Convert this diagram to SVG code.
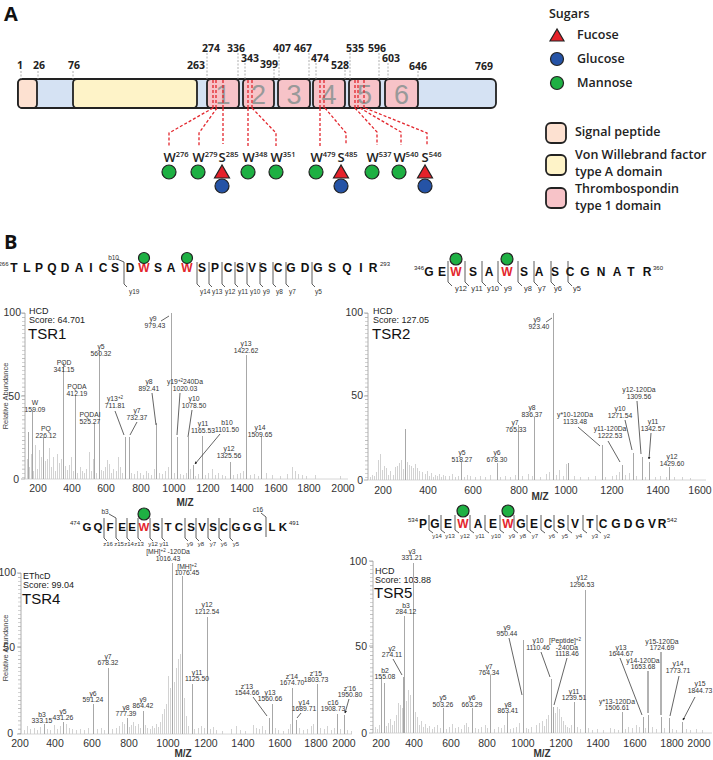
<svg xmlns="http://www.w3.org/2000/svg" width="713" height="760" viewBox="0 0 713 760">
<defs>
<marker id="ah" viewBox="0 0 6 6" refX="5" refY="3" markerWidth="4" markerHeight="4" orient="auto"><path d="M0,0L6,3L0,6z" fill="#222"/></marker>
<style>
.num{font-family:"Open Sans","Liberation Sans",sans-serif;font-weight:700;font-size:10.5px;fill:#222;text-anchor:middle}
.gd{stroke:#999;stroke-width:0.8;stroke-dasharray:2 1.5}
.rd{stroke:#e3262d;stroke-width:1.3;stroke-dasharray:3 2;fill:none}
.box{stroke:#222;stroke-width:1.8}
.tsr{fill:#f7c3c8}
.big{font-family:"Liberation Sans",sans-serif;font-size:27px;fill:#999;text-anchor:middle}
.man{fill:#1eb043;stroke:#222;stroke-width:1.2}
.glc{fill:#2553a6;stroke:#222;stroke-width:1.2}
.fuc{fill:#e5212a;stroke:#222;stroke-width:1.2}
.site{font-family:"Open Sans","Liberation Sans",sans-serif;font-weight:600;font-size:13px;fill:#222}
.site tspan{font-size:7.5px}
.lg{font-family:"Open Sans","Liberation Sans",sans-serif;font-weight:600;font-size:12.5px;fill:#222}
.seq{font-family:"Liberation Sans",sans-serif;font-weight:700;font-size:12px;fill:#111;text-anchor:middle}
.w{fill:#e3262d}
.sup{font-family:"Liberation Sans",sans-serif;font-size:6px;fill:#222}
.mk{stroke:#333;stroke-width:0.8;fill:none}
.ion{font-family:"Liberation Sans",sans-serif;font-size:6.5px;fill:#333}
.pk{stroke:#a8a8a8;stroke-width:1;fill:none}
.nz{stroke:#c6c6c6;stroke-width:0.8;fill:none}
.pl{font-family:"Liberation Sans",sans-serif;font-size:6.8px;fill:#333;text-anchor:middle}
.arr{stroke:#222;stroke-width:0.7;fill:none;marker-end:url(#ah)}
.ax{stroke:#999;stroke-width:0.8}
.mt{stroke:#aaa;stroke-width:3;stroke-dasharray:0.6 3.5}
.tk{font-family:"Liberation Sans",sans-serif;font-size:10.5px;fill:#333;text-anchor:middle}
.yl{font-family:"Liberation Sans",sans-serif;font-size:10.5px;fill:#333;text-anchor:end}
.mz{font-family:"Liberation Sans",sans-serif;font-weight:700;font-size:10px;fill:#333;text-anchor:middle}
.ra{font-family:"Liberation Sans",sans-serif;font-size:7.5px;fill:#444;text-anchor:middle}
.hd{font-family:"Liberation Sans",sans-serif;font-size:9px;fill:#222}
.nm{font-family:"Liberation Sans",sans-serif;font-size:15px;fill:#111}
.pn{font-family:"Open Sans","Liberation Sans",sans-serif;font-weight:700;font-size:20px;fill:#111}
</style>
</defs>
<rect width="713" height="760" fill="#fff"/>

<!-- Panel labels -->
<text class="pn" x="4" y="21">A</text>
<text class="pn" x="4" y="249">B</text>

<!-- Domain bar -->
<g id="domain-bar">
<rect x="18" y="79" width="478" height="29" rx="5" fill="#d5e2f3" class="box"/>
<rect x="18" y="79" width="19" height="29" rx="4" fill="#fde1d1" class="box"/>
<rect x="73" y="79" width="124" height="29" rx="4" fill="#fef3c8" class="box"/>
<rect x="207" y="79" width="32" height="29" rx="4" class="box tsr"/>
<rect x="243" y="79" width="31" height="29" rx="4" class="box tsr"/>
<rect x="278" y="79" width="32" height="29" rx="4" class="box tsr"/>
<rect x="313" y="79" width="32" height="29" rx="4" class="box tsr"/>
<rect x="349" y="79" width="31" height="29" rx="4" class="box tsr"/>
<rect x="385" y="79" width="33" height="29" rx="4" class="box tsr"/>
<text class="big" x="223" y="104">1</text>
<text class="big" x="258.5" y="104">2</text>
<text class="big" x="294" y="104">3</text>
<text class="big" x="329" y="104">4</text>
<text class="big" x="364.5" y="104">5</text>
<text class="big" x="401.5" y="104">6</text>
<path class="gd" d="M21 71V79M38 71V79M73 71V79M207 53V79M238 53V79M245 63V79M274 69V79M279 53V79M309 53V79M316 63V79M345 70V79M350 53V79M379 53V79M388 63V79M418 71V79"/>
<text class="num" x="20" y="69">1</text>
<text class="num" x="39" y="69">26</text>
<text class="num" x="74" y="69">76</text>
<text class="num" x="196" y="69">263</text>
<text class="num" x="211" y="52">274</text>
<text class="num" x="236" y="52">336</text>
<text class="num" x="250" y="62">343</text>
<text class="num" x="269" y="68">399</text>
<text class="num" x="282" y="52">407</text>
<text class="num" x="303" y="52">467</text>
<text class="num" x="320" y="62">474</text>
<text class="num" x="340" y="69">528</text>
<text class="num" x="355" y="52">535</text>
<text class="num" x="377" y="52">596</text>
<text class="num" x="391" y="62">603</text>
<text class="num" x="418" y="70">646</text>
<text class="num" x="484" y="70">769</text>
</g>

<!-- Glycosylation connectors -->
<g id="site-connectors">
<path class="rd" d="M213 80V108M216 80V108M223 80V108M248 80V108M252 80V108M320 80V108M324 80V108M355 80V108M358 80V108M364 80V108"/>
<path class="rd" d="M213 108L169 133V146M217 108L199 133V146M223 108V144M248 108V146M252 108L276 133V146M320 108V146M325 108L346 133V145M355 108L377 132V145M360 108L401 132V145M365 108L427 133V145"/>
</g>

<!-- Glycosylation sites -->
<g id="site-W276"><text class="site" x="163.5" y="162">W<tspan dy="-5">276</tspan></text><circle class="man" cx="169" cy="172" r="7"/></g>
<g id="site-W279"><text class="site" x="192.5" y="162">W<tspan dy="-5">279</tspan></text><circle class="man" cx="198" cy="172" r="7"/></g>
<g id="site-S285"><text class="site" x="218.5" y="162">S<tspan dy="-5">285</tspan></text><polygon class="fuc" points="222,165 214.5,178 229.5,178"/><circle class="glc" cx="222" cy="186" r="7"/></g>
<g id="site-W348"><text class="site" x="242.5" y="162">W<tspan dy="-5">348</tspan></text><circle class="man" cx="248" cy="172" r="7"/></g>
<g id="site-W351"><text class="site" x="270.5" y="162">W<tspan dy="-5">351</tspan></text><circle class="man" cx="276" cy="172" r="7"/></g>
<g id="site-W479"><text class="site" x="310.5" y="162">W<tspan dy="-5">479</tspan></text><circle class="man" cx="316" cy="172" r="7"/></g>
<g id="site-S485"><text class="site" x="337.5" y="162">S<tspan dy="-5">485</tspan></text><polygon class="fuc" points="341,165 333.5,178 348.5,178"/><circle class="glc" cx="341" cy="186" r="7"/></g>
<g id="site-W537"><text class="site" x="366.5" y="162">W<tspan dy="-5">537</tspan></text><circle class="man" cx="372" cy="172" r="7"/></g>
<g id="site-W540"><text class="site" x="393.5" y="162">W<tspan dy="-5">540</tspan></text><circle class="man" cx="399" cy="172" r="7"/></g>
<g id="site-S546"><text class="site" x="421.5" y="162">S<tspan dy="-5">546</tspan></text><polygon class="fuc" points="425,165 417.5,178 432.5,178"/><circle class="glc" cx="425" cy="186" r="7"/></g>

<!-- Legend -->
<g id="legend-sugars">
<text class="lg" x="549" y="18">Sugars</text>
<polygon class="fuc" points="557,29 550,41 564,41"/>
<text class="lg" x="577" y="39">Fucose</text>
<circle class="glc" cx="557" cy="59" r="6.5"/>
<text class="lg" x="577" y="63">Glucose</text>
<circle class="man" cx="557" cy="83" r="6.5"/>
<text class="lg" x="577" y="87">Mannose</text>
</g>
<g id="legend-domains">
<rect x="546" y="123" width="20" height="20" rx="5" fill="#fde1d1" class="box"/>
<text class="lg" x="575" y="136">Signal peptide</text>
<rect x="546" y="155" width="20" height="20" rx="5" fill="#fef3c8" class="box"/>
<text class="lg" x="575" y="159">Von Willebrand factor</text>
<text class="lg" x="575" y="176">type A domain</text>
<rect x="546" y="188" width="20" height="20" rx="5" class="box tsr"/>
<text class="lg" x="575" y="193">Thrombospondin</text>
<text class="lg" x="575" y="210">type 1 domain</text>
</g>

<!-- ===== TSR1 ===== -->
<g id="tsr1-sequence">
<text class="sup" x="8.5" y="266" text-anchor="end">266</text>
<text class="seq" y="272"><tspan x="14 27 39 52 65 79 91 103 115 130">TLPQDAICSD</tspan><tspan class="w" x="144">W</tspan><tspan x="158 171">SA</tspan><tspan class="w" x="187">W</tspan><tspan x="202 215 228 240 252 263 278 291 305 318 332 347 361 373">SPCSVSCGDGSQIR</tspan></text>
<text class="sup" x="380" y="266">293</text>
<circle class="man" cx="144" cy="258" r="5.5"/><circle class="man" cx="187" cy="258" r="5.5"/>
<path class="mk" d="M117 259L124 262V284L127 287M197 262V284L200 287M209 262V284L212 287M222 262V284L225 287M235 262V284L238 287M247 262V284L250 287M260 262V284L263 287M273 262V284L276 287M286 262V284L289 287M312 262V284L315 287"/>
<text class="ion" x="119" y="260" text-anchor="end">b10</text>
<text class="ion" x="129" y="294">y19</text>
<text class="ion" x="200" y="294">y14</text><text class="ion" x="212" y="294">y13</text><text class="ion" x="225" y="294">y12</text><text class="ion" x="238" y="294">y11</text><text class="ion" x="250" y="294">y10</text><text class="ion" x="263" y="294">y9</text><text class="ion" x="276" y="294">y8</text><text class="ion" x="289" y="294">y7</text><text class="ion" x="315" y="294">y5</text>
</g>
<g id="tsr1-spectrum">
<line class="ax" x1="25" y1="313" x2="25" y2="479"/><line class="mt" x1="23.5" y1="313" x2="23.5" y2="479"/>
<path class="ax" d="M21 313H25M21 396H25M21 479H25"/>
<line x1="25" y1="479" x2="348" y2="479" stroke="#ccc" stroke-width="0.8"/>
<text class="yl" x="21" y="316">100</text><text class="yl" x="20" y="400">50</text><text class="yl" x="19" y="483">0</text>
<text class="tk" x="38" y="492">200</text><text class="tk" x="72" y="492">400</text><text class="tk" x="106" y="492">600</text><text class="tk" x="141" y="492">800</text><text class="tk" x="174" y="492">1000</text><text class="tk" x="208" y="492">1200</text><text class="tk" x="242" y="492">1400</text><text class="tk" x="276" y="492">1600</text><text class="tk" x="309" y="492">1800</text><text class="tk" x="343" y="492">2000</text>
<text class="mz" x="185" y="506">M/Z</text>
<text class="ra" transform="translate(8 396) rotate(-90)">Relative Abundance</text>
<text class="hd" x="29" y="314">HCD</text><text class="hd" x="29" y="323">Score: 64.701</text><text class="nm" x="28" y="339">TSR1</text>
<g transform="translate(0.5 0)">
<path class="nz" d="M27 479v-20M29 479v-12M31 479v-25M33 479v-8M35 479v-34M37 479v-10M39 479v-29M41 479v-22M45 479v-18M47 479v-20M49 479v-31M51 479v-12M53 479v-22M55 479v-8M57 479v-25M59 479v-16M61 479v-20M65 479v-13M67 479v-9M69 479v-14M71 479v-22M73 479v-8M77 479v-6M80 479v-12M82 479v-8M84 479v-6M86 479v-10M89 479v-27M91 479v-8M93 479v-20M96 479v-6M101 479v-9M103 479v-8M105 479v-12M107 479v-19M109 479v-15M111 479v-6M113 479v-10M116 479v-8M118 479v-22M120 479v-12M122 479v-6M131 479v-6M134 479v-5M137 479v-8M140 479v-6M143 479v-4M146 479v-8M148 479v-6M151 479v-4M154 479v-10M159 479v-6M162 479v-5M165 479v-8M168 479v-12M174 479v-6M180 479v-5M183 479v-4M186 479v-6M190 479v-10M195 479v-3M198 479v-5M205 479v-4M208 479v-6M212 479v-10M215 479v-4M218 479v-6M222 479v-4M225 479v-3M233 479v-4M237 479v-5M240 479v-6M243 479v-8M250 479v-4M254 479v-5M258 479v-3M266 479v-6M272 479v-4M280 479v-3M287 479v-5M292 479v-12M295 479v-8M298 479v-5M302 479v-4M306 479v-3M315 479v-4M340 479v-3"/>
<path class="pk" d="M28 479V432M32 479V410M43 479V437M63 479V362M75 479V395M94 479V423M99 479V350M125 479V437M129 479V437M156 479V423M171 479V313M177 479V437M188 479V437M193 479V465M202 479V436M230 479V462M246 479V355M261 479V436"/>
</g>
<text class="pl" x="35" y="405">W</text><text class="pl" x="35" y="412">159.09</text>
<text class="pl" x="46" y="431">PQ</text><text class="pl" x="46" y="438">226.12</text>
<text class="pl" x="64" y="365">PQD</text><text class="pl" x="64" y="372">341.15</text>
<text class="pl" x="77" y="389">PQDA</text><text class="pl" x="77" y="396">412.19</text>
<text class="pl" x="90" y="417">PQDAI</text><text class="pl" x="90" y="424">525.27</text>
<text class="pl" x="101" y="349">y5</text><text class="pl" x="101" y="356">560.32</text>
<text class="pl" x="115" y="401">y13<tspan dy="-2.5" font-size="4.5">+2</tspan></text><text class="pl" x="115" y="408">711.81</text>
<text class="pl" x="137" y="413">y7</text><text class="pl" x="137" y="420">732.37</text>
<text class="pl" x="149" y="384">y8</text><text class="pl" x="149" y="391">892.41</text>
<text class="pl" x="153" y="321">y9</text><text class="pl" x="155" y="328">979.43</text>
<text class="pl" x="185" y="384">y19<tspan dy="-2.5" font-size="4.5">+2</tspan><tspan dy="2.5">240Da</tspan></text><text class="pl" x="185" y="391">1020.03</text>
<text class="pl" x="194" y="401">y10</text><text class="pl" x="194" y="408">1078.50</text>
<text class="pl" x="203" y="426">y11</text><text class="pl" x="203" y="433">1165.53</text>
<text class="pl" x="227" y="425">b10</text><text class="pl" x="227" y="432">1101.50</text>
<text class="pl" x="229" y="451">y12</text><text class="pl" x="229" y="458">1325.56</text>
<text class="pl" x="246" y="346">y13</text><text class="pl" x="246" y="353">1422.62</text>
<text class="pl" x="260" y="430">y14</text><text class="pl" x="260" y="437">1509.65</text>
<path class="arr" d="M115 411L124 435M137 422L130 435M152 393L156 425M161 321L169 316M180 393L177 435M192 410L188 437M220 434L195 464"/>
</g>

<!-- ===== TSR2 ===== -->
<g id="tsr2-sequence">
<text class="sup" x="424" y="270" text-anchor="end">346</text>
<text class="seq" y="276"><tspan x="429 442">GE</tspan><tspan class="w" x="456">W</tspan><tspan x="473 489">SA</tspan><tspan class="w" x="507">W</tspan><tspan x="524 539 555 570 585 601 617 631 647">SASCGNATR</tspan></text>
<text class="sup" x="653" y="270">360</text>
<circle class="man" cx="456" cy="259" r="6"/><circle class="man" cx="507" cy="259" r="6"/>
<path class="mk" d="M448 261V282L452 286M465 261V282L469 286M482 261V282L486 286M498 261V282L502 286M518 261V282L522 286M534 261V282L538 286M551 261V282L555 286M568 261V282L572 286"/>
<g class="ion" style="font-size:7.5px" text-anchor="middle"><text x="461" y="291">y12</text><text x="477" y="291">y11</text><text x="493" y="291">y10</text><text x="508" y="291">y9</text><text x="528" y="291">y8</text><text x="542" y="291">y7</text><text x="558" y="291">y6</text><text x="577" y="291">y5</text></g>
</g>
<g id="tsr2-spectrum">
<line class="ax" x1="368" y1="313" x2="368" y2="480"/><line class="mt" x1="366.5" y1="313" x2="366.5" y2="480"/>
<path class="ax" d="M364 313H368M364 396H368M364 480H368"/>
<line x1="368" y1="480" x2="706" y2="480" stroke="#ccc" stroke-width="0.8"/>
<text class="yl" x="363" y="316">100</text><text class="yl" x="363" y="399">50</text><text class="yl" x="363" y="484">0</text>
<text class="tk" x="383" y="494">200</text><text class="tk" x="428" y="494">400</text><text class="tk" x="473" y="494">600</text><text class="tk" x="519" y="494">800</text><text class="tk" x="566" y="494">1000</text><text class="tk" x="612" y="494">1200</text><text class="tk" x="658" y="494">1400</text><text class="tk" x="700" y="494">1600</text>
<text class="mz" x="540" y="500">M/Z</text>
<text class="hd" x="373" y="314">HCD</text><text class="hd" x="373" y="323">Score: 127.05</text><text class="nm" x="372" y="339">TSR2</text>
<g transform="translate(0.5 0)">
<path class="nz" d="M370 480v-3M372 480v-5M374 480v-4M376 480v-8M378 480v-20M380 480v-26M382 480v-10M384 480v-14M386 480v-12M388 480v-5M390 480v-9M393 480v-5M395 480v-13M397 480v-14M399 480v-17M401 480v-20M403 480v-11M407 480v-18M409 480v-15M411 480v-14M413 480v-12M415 480v-16M417 480v-12M419 480v-9M422 480v-8M425 480v-6M427 480v-9M429 480v-4M431 480v-7M433 480v-3M435 480v-5M437 480v-4M439 480v-6M441 480v-3M443 480v-5M445 480v-4M449 480v-4M452 480v-6M455 480v-3M458 480v-4M464 480v-3M467 480v-5M470 480v-4M475 480v-3M480 480v-4M485 480v-3M490 480v-5M500 480v-3M505 480v-4M510 480v-3M515 480v-5M522 480v-4M528 480v-6M532 480v-4M540 480v-3M546 480v-6M549 480v-8M556 480v-5M559 480v-10M563 480v-4M566 480v-16M574 480v-4M580 480v-3M588 480v-3M595 480v-4M605 480v-3M612 480v-4M616 480v-5M619 480v-8M625 480v-5M629 480v-7M636 480v-4M645 480v-3M655 480v-3M660 480v-4M666 480v-3M674 480v-3M682 480v-3M690 480v-2"/>
<path class="pk" d="M405 480V429M461 480V462M497 480V463M518 480V425M534 480V417M553 480V313M568 480V463M602 480V445M622 480V465M633 480V453M642 480V457M649 480V462M669 480V467"/>
</g>
<text class="pl" x="462" y="455">y5</text><text class="pl" x="462" y="462">518.27</text>
<text class="pl" x="497" y="455">y6</text><text class="pl" x="497" y="462">678.30</text>
<text class="pl" x="515" y="425">y7</text><text class="pl" x="516" y="432">765.33</text>
<text class="pl" x="532" y="410">y8</text><text class="pl" x="532" y="417">836.37</text>
<text class="pl" x="537" y="322">y9</text><text class="pl" x="539" y="329">923.40</text>
<text class="pl" x="575" y="417">y*10-120Da</text><text class="pl" x="575" y="424">1133.48</text>
<text class="pl" x="610" y="431">y11-120Da</text><text class="pl" x="610" y="438">1222.53</text>
<text class="pl" x="620" y="411">y10</text><text class="pl" x="620" y="418">1271.54</text>
<text class="pl" x="639" y="392">y12-120Da</text><text class="pl" x="639" y="399">1309.56</text>
<text class="pl" x="653" y="424">y11</text><text class="pl" x="653" y="431">1342.57</text>
<text class="pl" x="672" y="459">y12</text><text class="pl" x="672" y="466">1429.60</text>
<path class="arr" d="M546 322L552 318M578 427L600 446M608 441L620 462M625 420L632 450M637 401L641 454M651 433L649 459"/>
</g>

<!-- ===== TSR4 ===== -->
<g id="tsr4-sequence">
<text class="sup" x="80" y="525" text-anchor="end">474</text>
<text class="seq" style="font-size:11.5px" y="531"><tspan x="87 98 110 122 132">GQFEE</tspan><tspan class="w" x="144">W</tspan><tspan x="156 168 179 191 202 213 224 236 247 258 272 283">STCSVSCGGGLK</tspan></text>
<text class="sup" x="289" y="525">491</text>
<circle class="man" cx="144" cy="514" r="6"/>
<path class="mk" d="M104 518V538L107 541M109 514L116 518V538L119 541M127 518V538L130 541M138 518V538L141 541M150 518V538L153 541M162 518V538L165 541M185 518V538L188 541M196 518V538L199 541M208 518V538L211 541M219 518V538L222 541M230 518V538L233 541M261 513L266 517V537"/>
<text class="ion" x="105" y="514" text-anchor="middle">b3</text>
<text class="ion" x="258" y="512" text-anchor="middle">c16</text>
<g class="ion" style="font-size:6px" text-anchor="middle"><text x="108" y="546">z16</text><text x="119" y="546">z15</text><text x="129" y="546">z14</text><text x="139" y="546">z13</text><text x="153" y="546">y12</text><text x="164" y="546">y11</text><text x="190" y="546">y9</text><text x="201" y="546">y8</text><text x="213" y="546">y7</text><text x="224" y="546">y6</text><text x="236" y="546">y5</text></g>
</g>
<g id="tsr4-spectrum">
<line class="ax" x1="21" y1="573" x2="21" y2="734"/><line class="mt" x1="19.5" y1="573" x2="19.5" y2="734"/>
<path class="ax" d="M17 573H21M17 647H21M17 734H21"/>
<line x1="21" y1="734" x2="352" y2="734" stroke="#ccc" stroke-width="0.8"/>
<text class="yl" x="16" y="576">100</text><text class="yl" x="15" y="651">50</text><text class="yl" x="13" y="737">0</text>
<text class="tk" x="20" y="747">200</text><text class="tk" x="55" y="747">400</text><text class="tk" x="92" y="747">600</text><text class="tk" x="129" y="747">800</text><text class="tk" x="168" y="747">1000</text><text class="tk" x="206" y="747">1200</text><text class="tk" x="243" y="747">1400</text><text class="tk" x="280" y="747">1600</text><text class="tk" x="316" y="747">1800</text><text class="tk" x="344" y="747">2000</text>
<text class="mz" x="183" y="757">M/Z</text>
<text class="ra" transform="translate(8 648) rotate(-90)">Relative Abundance</text>
<text class="hd" x="23" y="579">EThcD</text><text class="hd" x="23" y="588">Score: 99.04</text><text class="nm" x="22" y="604">TSR4</text>
<g transform="translate(0.5 0)">
<path class="nz" d="M24 734v-4M27 734v-8M30 734v-5M34 734v-6M37 734v-4M40 734v-7M47 734v-5M50 734v-4M54 734v-9M57 734v-5M60 734v-8M66 734v-10M69 734v-6M72 734v-5M76 734v-4M80 734v-5M84 734v-4M88 734v-6M97 734v-5M101 734v-6M104 734v-4M112 734v-5M116 734v-6M119 734v-8M122 734v-12M124 734v-10M129 734v-7M131 734v-9M133 734v-12M135 734v-8M138 734v-10M140 734v-6M145 734v-9M147 734v-6M150 734v-5M152 734v-8M154 734v-6M156 734v-10M158 734v-7M160 734v-12M162 734v-20M164 734v-25M166 734v-30M168 734v-58M170 734v-46M174 734v-52M176 734v-66M178 734v-75M180 734v-80M184 734v-36M186 734v-18M188 734v-8M194 734v-5M198 734v-6M201 734v-8M204 734v-6M210 734v-5M213 734v-7M216 734v-4M222 734v-3M231 734v-5M236 734v-8M240 734v-4M245 734v-3M253 734v-9M256 734v-6M259 734v-5M262 734v-8M265 734v-4M275 734v-6M278 734v-4M283 734v-3M288 734v-5M290 734v-10M299 734v-6M303 734v-4M307 734v-5M311 734v-8M313 734v-10M320 734v-6M324 734v-5M327 734v-8M331 734v-4M334 734v-6M340 734v-5M347 734v-4M351 734v-3"/>
<path class="pk" d="M44 734V724M63 734V722M93 734V704M108 734V668M127 734V718M143 734V711M172 734V563M182 734V576M192 734V684M207 734V617M269 734V718M272 734V704M292 734V688M296 734V720M317 734V684M337 734V714M344 734V715"/>
</g>
<text class="pl" x="42" y="717">b3</text><text class="pl" x="42" y="723">333.15</text>
<text class="pl" x="63" y="714">y5</text><text class="pl" x="63" y="720">431.26</text>
<text class="pl" x="93" y="696">y6</text><text class="pl" x="93" y="702">591.24</text>
<text class="pl" x="108" y="659">y7</text><text class="pl" x="108" y="665">678.32</text>
<text class="pl" x="126" y="710">y8</text><text class="pl" x="126" y="716">777.39</text>
<text class="pl" x="143" y="702">y9</text><text class="pl" x="143" y="708">864.42</text>
<text class="pl" x="168" y="554">[MH]<tspan dy="-2.5" font-size="4.5">+2</tspan><tspan dy="2.5"> -120Da</tspan></text><text class="pl" x="168" y="561">1016.43</text>
<text class="pl" x="187" y="569">[MH]<tspan dy="-2.5" font-size="4.5">+2</tspan></text><text class="pl" x="187" y="575">1076.45</text>
<text class="pl" x="197" y="675">y11</text><text class="pl" x="197" y="681">1125.50</text>
<text class="pl" x="207" y="607">y12</text><text class="pl" x="207" y="614">1212.54</text>
<text class="pl" x="247" y="689">z'13</text><text class="pl" x="247" y="695">1544.66</text>
<text class="pl" x="270" y="695">y13</text><text class="pl" x="270" y="701">1560.66</text>
<text class="pl" x="292" y="679">z'14</text><text class="pl" x="292" y="685">1674.70</text>
<text class="pl" x="304" y="705">y14</text><text class="pl" x="304" y="711">1689.71</text>
<text class="pl" x="316" y="676">z'15</text><text class="pl" x="316" y="682">1803.73</text>
<text class="pl" x="333" y="705">c16</text><text class="pl" x="333" y="711">1908.73</text>
<text class="pl" x="350" y="691">z'16</text><text class="pl" x="350" y="697">1950.80</text>
<path class="arr" d="M253 697L267 716M301 713L297 718M349 699L345 713"/>
</g>

<!-- ===== TSR5 ===== -->
<g id="tsr5-sequence">
<text class="sup" x="418" y="522" text-anchor="end">534</text>
<text class="seq" y="528"><tspan x="423 435 448">PGE</tspan><tspan class="w" x="463">W</tspan><tspan x="478 493">AE</tspan><tspan class="w" x="508">W</tspan><tspan x="521 534 548 561 575 590 603 616 628 640 652 662">GECSVTCGDGVR</tspan></text>
<text class="sup" x="667" y="522">542</text>
<circle class="man" cx="463" cy="511" r="6"/><circle class="man" cx="508" cy="511" r="6"/>
<path class="mk" d="M429 515V530L433 533M441 515V530L445 533M455 515V530L459 533M470 515V530L474 533M485 515V530L489 533M500 515V530L504 533M514 515V530L518 533M527 515V530L531 533M541 515V530L545 533M554 515V530L558 533M568 515V530L572 533M583 515V530L587 533M597 515V530L601 533"/>
<g class="ion" style="font-size:6px" text-anchor="middle"><text x="437" y="538">y14</text><text x="450" y="538">y13</text><text x="465" y="538">y12</text><text x="480" y="538">y11</text><text x="496" y="538">y10</text><text x="512" y="538">y9</text><text x="523" y="538">y8</text><text x="535" y="538">y7</text><text x="552" y="538">y6</text><text x="565" y="538">y5</text><text x="579" y="538">y4</text><text x="595" y="538">y3</text><text x="607" y="538">y2</text></g>
</g>
<g id="tsr5-spectrum">
<line class="ax" x1="373" y1="561" x2="373" y2="733"/><line class="mt" x1="371.5" y1="561" x2="371.5" y2="733"/>
<path class="ax" d="M369 561H373M369 646H373M369 733H373"/>
<line x1="373" y1="733" x2="712" y2="733" stroke="#ccc" stroke-width="0.8"/>
<text class="yl" x="367" y="565">100</text><text class="yl" x="367" y="650">50</text><text class="yl" x="367" y="737">0</text>
<text class="tk" x="381" y="747">200</text><text class="tk" x="414" y="747">400</text><text class="tk" x="451" y="747">600</text><text class="tk" x="487" y="747">800</text><text class="tk" x="523" y="747">1000</text><text class="tk" x="561" y="747">1200</text><text class="tk" x="598" y="747">1400</text><text class="tk" x="635" y="747">1600</text><text class="tk" x="672" y="747">1800</text><text class="tk" x="699" y="747">2000</text>
<text class="mz" x="542" y="757">M/Z</text>
<text class="hd" x="375" y="574">HCD</text><text class="hd" x="375" y="583">Score: 103.88</text><text class="nm" x="374" y="598">TSR5</text>
<g transform="translate(0.5 0)">
<path class="nz" d="M375 733v-6M377 733v-4M379 733v-8M386 733v-7M388 733v-10M390 733v-14M392 733v-8M394 733v-12M396 733v-18M398 733v-30M400 733v-28M402 733v-25M406 733v-32M408 733v-43M410 733v-38M415 733v-21M417 733v-16M419 733v-8M421 733v-12M423 733v-6M425 733v-9M427 733v-5M429 733v-7M432 733v-4M434 733v-6M437 733v-8M440 733v-5M446 733v-4M449 733v-6M452 733v-9M455 733v-5M458 733v-6M461 733v-4M464 733v-8M466 733v-10M468 733v-6M475 733v-5M478 733v-4M481 733v-6M485 733v-8M487 733v-5M494 733v-4M498 733v-6M501 733v-5M504 733v-8M510 733v-4M513 733v-5M516 733v-6M519 733v-10M526 733v-5M528 733v-4M531 733v-6M536 733v-8M539 733v-10M542 733v-12M544 733v-7M546 733v-14M548 733v-18M555 733v-20M557 733v-26M559 733v-24M561 733v-16M563 733v-12M565 733v-8M567 733v-6M569 733v-5M571 733v-8M577 733v-6M580 733v-4M588 733v-5M592 733v-3M597 733v-4M603 733v-3M610 733v-5M614 733v-4M618 733v-3M625 733v-4M628 733v-6M632 733v-5M636 733v-8M639 733v-6M645 733v-5M652 733v-6M656 733v-4M664 733v-5M672 733v-4M676 733v-3M686 733v-4M690 733v-3M696 733v-4M702 733v-3"/>
<path class="pk" d="M381 733V677M384 733V683M403 733V677M404 733V616M413 733V563M443 733V708M472 733V708M490 733V675M507 733V713M523 733V640M551 733V679M553 733V707M574 733V702M585 733V590M622 733V712M643 733V717M648 733V715M661 733V717M669 733V718M682 733V722"/>
</g>
<text class="pl" x="406" y="608">b3</text><text class="pl" x="406" y="614">284.12</text>
<text class="pl" x="385" y="673">b2</text><text class="pl" x="385" y="679">155.08</text>
<text class="pl" x="392" y="651">y2</text><text class="pl" x="392" y="657">274.11</text>
<text class="pl" x="412" y="554">y3</text><text class="pl" x="412" y="560">331.21</text>
<text class="pl" x="443" y="700">y5</text><text class="pl" x="443" y="707">503.26</text>
<text class="pl" x="472" y="700">y6</text><text class="pl" x="472" y="707">663.29</text>
<text class="pl" x="489" y="669">y7</text><text class="pl" x="489" y="675">764.34</text>
<text class="pl" x="508" y="707">y8</text><text class="pl" x="508" y="713">863.41</text>
<text class="pl" x="507" y="630">y9</text><text class="pl" x="507" y="636">950.44</text>
<text class="pl" x="538" y="643">y10</text><text class="pl" x="538" y="650">1110.46</text>
<text class="pl" x="565" y="643">[Peptide]<tspan dy="-2.5" font-size="4.5">+2</tspan></text><text class="pl" x="567" y="650">-240Da</text><text class="pl" x="567" y="656">1118.46</text>
<text class="pl" x="574" y="694">y11</text><text class="pl" x="574" y="700">1239.51</text>
<text class="pl" x="582" y="580">y12</text><text class="pl" x="582" y="587">1296.53</text>
<text class="pl" x="617" y="704">y*13-120Da</text><text class="pl" x="617" y="710">1506.61</text>
<text class="pl" x="621" y="650">y13</text><text class="pl" x="621" y="656">1644.67</text>
<text class="pl" x="643" y="663">y14-120Da</text><text class="pl" x="643" y="669">1653.68</text>
<text class="pl" x="662" y="644">y15-120Da</text><text class="pl" x="662" y="650">1724.69</text>
<text class="pl" x="678" y="666">y14</text><text class="pl" x="678" y="673">1773.71</text>
<text class="pl" x="700" y="686">y15</text><text class="pl" x="700" y="693">1844.73</text>
<path class="arr" d="M393 659L402 675M509 638L522 695M541 652L550 677M567 658L554 705M620 658L642 715M648 671L648 713M661 652L661 715M679 676L670 716M695 697L683 720"/>
</g>
</svg>
